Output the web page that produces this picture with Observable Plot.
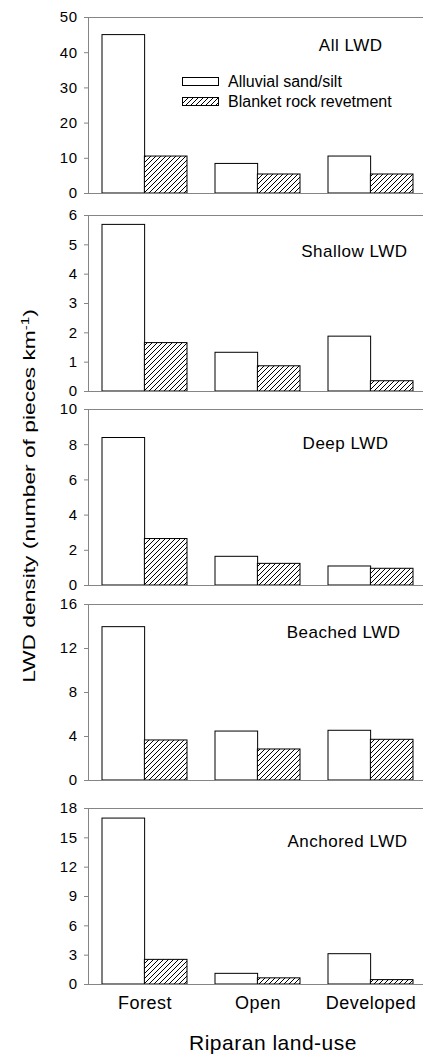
<!DOCTYPE html>
<html>
<head>
<meta charset="utf-8">
<script src="https://cdn.jsdelivr.net/npm/d3@7"></script>
<script src="https://cdn.jsdelivr.net/npm/@observablehq/plot@0.6"></script>
<style>
  html, body { margin: 0; padding: 0; background: #fff; overflow: hidden; }
  #wrap { position: relative; width: 423px; height: 1054px; font-family: "Liberation Sans", Arial, sans-serif; }
  #wrap svg.panel { position: absolute; left: 0; overflow: visible; }
  #wrap svg.panel text { letter-spacing: 0.5px; }
  .ylab { position: absolute; left: 29px; top: 496px; white-space: nowrap; font-size: 16.5px; color: #000;
          transform: translate(-50%, -50%) rotate(-90deg) scaleX(1.38); transform-origin: 50% 50%; }
  .ylab sup { font-size: 11px; vertical-align: 6px; line-height: 0; }
  .leg { position: absolute; font-size: 16px; color: #000; white-space: nowrap; line-height: 1; }
  .sw { position: absolute; width: 35px; height: 7px; border: 1px solid #000; background: #fff; }
</style>
</head>
<body>
<svg width="0" height="0" style="position:absolute">
  <defs>
    <pattern id="hatch" patternUnits="userSpaceOnUse" width="5" height="5">
      <rect width="5" height="5" fill="#fff"></rect>
      <path d="M-1,1 L1,-1 M0,5 L5,0 M4,6 L6,4" stroke="#000" stroke-width="1"></path>
    </pattern>
  </defs>
</svg>
<div id="wrap"></div>
<script>
const categories = ["Forest", "Open", "Developed"];
const series = ["Alluvial sand/silt", "Blanket rock revetment"];
const panelTitles = ["All LWD", "Shallow LWD", "Deep LWD", "Beached LWD", "Anchored LWD"];

const allAlluvial = [45.0, 8.4, 10.5];
const allBlanket = [10.5, 5.4, 5.4];
const shallowAlluvial = [5.68, 1.32, 1.87];
const shallowBlanket = [1.65, 0.86, 0.35];
const deepAlluvial = [8.38, 1.63, 1.08];
const deepBlanket = [2.64, 1.23, 0.95];
const beachedAlluvial = [13.94, 4.45, 4.52];
const beachedBlanket = [3.64, 2.82, 3.70];
const anchoredAlluvial = [16.97, 1.09, 3.10];
const anchoredBlanket = [2.52, 0.63, 0.45];

const yMax = [50, 6, 10, 16, 18];
const allTicks = [0, 10, 20, 30, 40, 50];
const shallowTicks = [0, 1, 2, 3, 4, 5, 6];
const deepTicks = [0, 2, 4, 6, 8, 10];
const beachedTicks = [0, 4, 8, 12, 16];
const anchoredTicks = [0, 3, 6, 9, 12, 15, 18];

const yLabelMain = "LWD density (number of pieces km";
const yLabelSup = "-1";
const xLabel = "Riparan land-use";

const alluvialSets = [allAlluvial, shallowAlluvial, deepAlluvial, beachedAlluvial, anchoredAlluvial];
const blanketSets = [allBlanket, shallowBlanket, deepBlanket, beachedBlanket, anchoredBlanket];
const tickSets = [allTicks, shallowTicks, deepTicks, beachedTicks, anchoredTicks];

// layout (styles only)
const svgTops = [7, 205, 399, 594, 798];
const titleDx = [-45, -20, -39, -27, -20];
const titleDy = [28, 36, 34, 28, 33];

const wrap = document.getElementById("wrap");
const W = 423, mL = 88, mR = -4, mT = 10, inner = 176;
const step = (W - mL - mR) / 3;
const half = step * 0.75 / 2;

for (let i = 0; i < 5; i++) {
  const last = i === 4;
  const mB = last ? 70 : 10;
  const rowsA = categories.map((c, j) => ({cat: c, series: series[0], v: alluvialSets[i][j]}));
  const rowsB = categories.map((c, j) => ({cat: c, series: series[1], v: blanketSets[i][j]}));
  const marks = [
    Plot.barY(rowsA, {x: "cat", y: "v", fill: "#fff", stroke: "#000", strokeWidth: 1, insetRight: half}),
    Plot.barY(rowsB, {x: "cat", y: "v", fill: "url(#hatch)", stroke: "#000", strokeWidth: 1, insetLeft: half}),
    Plot.frame({stroke: "#858585", strokeWidth: 1}),
    Plot.axisY({ticks: tickSets[i], tickFormat: d3.format("d"), tickSize: 4, tickPadding: 7, stroke: "#858585", fill: "#000", fontSize: 15, label: null}),
    Plot.text([panelTitles[i]], {text: d => d, frameAnchor: "top-right", textAnchor: "end", lineAnchor: "middle",
      dx: titleDx[i], dy: titleDy[i], fontSize: 17, fill: "#000"})
  ];
  if (last) {
    marks.push(Plot.axisX({tickSize: 0, tickPadding: 12, fontSize: 18, fill: "#000", label: null}));
    marks.push(Plot.text([xLabel], {text: d => d, frameAnchor: "bottom", lineAnchor: "middle",
      dx: 15, dy: 59, fontSize: 21, fill: "#000"}));
  }
  const chart = Plot.plot({
    width: W,
    height: mT + inner + mB,
    marginLeft: mL, marginRight: mR, marginTop: mT, marginBottom: mB,
    style: {fontFamily: '"Liberation Sans", Arial, sans-serif', background: "transparent", overflow: "visible"},
    x: {type: "band", domain: categories, paddingInner: 0.25, paddingOuter: 0.125, axis: null},
    y: {domain: [0, yMax[i]], axis: null},
    marks
  });
  chart.classList.add("panel");
  chart.style.top = svgTops[i] + "px";
  wrap.appendChild(chart);
}

// y-axis title
const yl = document.createElement("div");
yl.className = "ylab";
yl.append(yLabelMain);
const sup = document.createElement("sup");
sup.textContent = yLabelSup;
yl.append(sup, ")");
wrap.appendChild(yl);

// legend
const legTops = [77, 97];
series.forEach((s, k) => {
  const sw = document.createElement("div");
  sw.className = "sw";
  sw.style.left = "182px";
  sw.style.top = legTops[k] + "px";
  if (k === 1) {
    sw.innerHTML = '<svg width="35" height="7" style="display:block"><rect width="35" height="7" fill="url(#hatch)"></rect></svg>';
  }
  wrap.appendChild(sw);
  const t = document.createElement("div");
  t.className = "leg";
  t.style.left = "228px";
  t.style.top = (legTops[k] - 3) + "px";
  t.textContent = s;
  wrap.appendChild(t);
});
</script>
</body>
</html>
